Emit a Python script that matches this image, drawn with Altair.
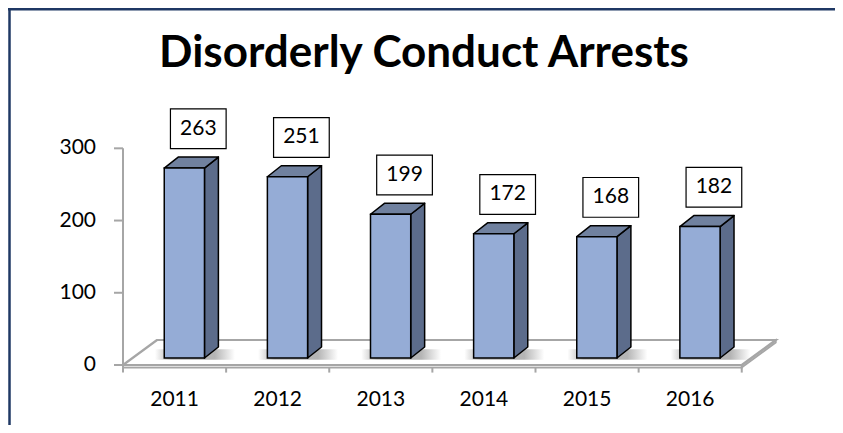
import altair as alt
import pandas as pd

# ---- data ----
years = ["2011", "2012", "2013", "2014", "2015", "2016"]
arrests = [263, 251, 199, 172, 168, 182]
y_ticks = [0, 100, 200, 300]
title_text = ["Disorderly Conduct Arrests"]

# ---- pseudo-3D geometry (expressed in scale units) ----
W, H = 660, 260
X_MAX, Y_MAX = 6.4, 360
FRONT_L, FRONT_R = 0.40, 0.79      # front face within a category slot
DEPTH_X, DEPTH_Y = 0.135, 15.2     # bar depth offset
LIFT = 9.7                         # bar base above the floor's front edge
FLOOR_DX, FLOOR_DY = 0.33, 34.6    # floor depth offset
SLAB = 3.5                         # floor thickness
LBL_DX, LBL_HW = 0.73, 0.27        # label box centre / half width
LBL_GAP, LBL_H = 11.7, 55          # gap above bar, box height

FRONT_C = "#95acd6"
SIDE_C = "#5c6c8b"
TOP_C = "#70819f"
GRID_C = "#a6a6a6"
FONT = "Lato"

n = len(years)
xs = alt.Scale(domain=[0, X_MAX], nice=False, zero=False)
ys = alt.Scale(domain=[0, Y_MAX], nice=False, zero=False)
X = lambda f: alt.X(f, type="quantitative", scale=xs, axis=None)
Y = lambda f: alt.Y(f, type="quantitative", scale=ys, axis=None)

front = pd.DataFrame({"year": years, "v": arrests, "i": range(n)})
front["x"] = front.i + FRONT_L
front["x2"] = front.i + FRONT_R
front["y"] = LIFT
front["y2"] = front.v + LIFT
front["cx"] = front.i + 0.5
front["sx1"] = front.i + FRONT_L - 0.09
front["sx2"] = front.i + FRONT_R + DEPTH_X + 0.16
front["sy1"] = LIFT - 2.5
front["sy2"] = LIFT + DEPTH_Y - 3
front["lx"] = front.i + LBL_DX
front["lx1"] = front.lx - LBL_HW
front["lx2"] = front.lx + LBL_HW
front["ly1"] = front.v + LIFT + DEPTH_Y + LBL_GAP
front["ly2"] = front.ly1 + LBL_H
front["ly"] = front.ly1 + LBL_H / 2

side_rows, top_rows = [], []
for i, (yr, v) in enumerate(zip(years, arrests)):
    side_rows.append({"year": yr, "x": i + FRONT_R, "y": v + LIFT, "y2": LIFT})
    side_rows.append({"year": yr, "x": i + FRONT_R + DEPTH_X,
                      "y": v + LIFT + DEPTH_Y, "y2": LIFT + DEPTH_Y})
    top_rows.append({"year": yr, "y": v + LIFT, "x": i + FRONT_L, "x2": i + FRONT_R})
    top_rows.append({"year": yr, "y": v + LIFT + DEPTH_Y,
                     "x": i + FRONT_L + DEPTH_X, "x2": i + FRONT_R + DEPTH_X})
side = pd.DataFrame(side_rows)
top = pd.DataFrame(top_rows)

floor = pd.DataFrame([
    {"y": 0, "x": 0, "x2": n},
    {"y": FLOOR_DY, "x": FLOOR_DX, "x2": n + FLOOR_DX},
])
slab = pd.DataFrame({"x": [0], "x2": [n], "y": [-SLAB], "y2": [0]})
slab_side = pd.DataFrame([
    {"x": n, "y": 0, "y2": -SLAB},
    {"x": n + FLOOR_DX, "y": FLOOR_DY, "y2": FLOOR_DY - SLAB},
])
xticks = pd.DataFrame({"x": list(range(n + 1)), "y": -SLAB, "y2": -10.5})
ytk = pd.DataFrame({"t": y_ticks})
yline = pd.DataFrame({"x": [0], "y": [-SLAB], "y2": [max(y_ticks)]})
ttl = pd.DataFrame({"t": title_text})

floor_l = alt.Chart(floor).mark_area(
    orient="horizontal", fill="white", stroke=GRID_C, strokeWidth=2.2
).encode(y=Y("y"), x=X("x"), x2="x2:Q")
slab_l = alt.Chart(slab).mark_rect(
    fill="#f2f2f2", stroke=GRID_C, strokeWidth=1.8
).encode(x=X("x"), x2="x2:Q", y=Y("y"), y2="y2:Q")
slab_side_l = alt.Chart(slab_side).mark_area(
    orient="vertical", fill="#e6e6e6", stroke=GRID_C, strokeWidth=1.8
).encode(x=X("x"), y=Y("y"), y2="y2:Q")

shadow_fill = alt.LinearGradient(
    gradient="linear", x1=0, x2=1, y1=0, y2=0,
    stops=[
        alt.GradientStop(color="rgba(120,120,120,0)", offset=0),
        alt.GradientStop(color="rgba(120,120,120,0.55)", offset=0.2),
        alt.GradientStop(color="rgba(120,120,120,0.55)", offset=0.75),
        alt.GradientStop(color="rgba(120,120,120,0)", offset=1),
    ],
)
shadow_l = alt.Chart(front).mark_rect(fill=shadow_fill).encode(
    x=X("sx1"), x2="sx2:Q", y=Y("sy1"), y2="sy2:Q")

side_l = alt.Chart(side).mark_area(
    orient="vertical", fill=SIDE_C, stroke="black", strokeWidth=1.5, strokeJoin="round"
).encode(x=X("x"), y=Y("y"), y2="y2:Q", detail="year:N")

top_l = alt.Chart(top).mark_area(
    orient="horizontal", fill=TOP_C, stroke="black", strokeWidth=1.5, strokeJoin="round"
).encode(y=Y("y"), x=X("x"), x2="x2:Q", detail="year:N")

front_l = alt.Chart(front).mark_rect(
    fill=FRONT_C, stroke="black", strokeWidth=1.5
).encode(x=X("x"), x2="x2:Q", y=Y("y"), y2="y2:Q")

box_l = alt.Chart(front).mark_rect(
    fill="white", stroke="black", strokeWidth=1.2
).encode(x=X("lx1"), x2="lx2:Q", y=Y("ly1"), y2="ly2:Q")

text_l = alt.Chart(front).mark_text(
    font=FONT, fontSize=21, color="black", align="center", baseline="middle"
).encode(x=X("lx"), y=Y("ly"), text="v:Q")

# x axis: tick rules + year labels
xtick_l = alt.Chart(xticks).mark_rule(color=GRID_C, strokeWidth=2).encode(
    x=X("x"), y=Y("y"), y2="y2:Q")
xlab_l = alt.Chart(front).mark_text(
    font=FONT, fontSize=21, color="black", align="center", baseline="alphabetic"
).encode(x=X("cx"), y=alt.value(H + 41), text="year:N")

# y axis: line, ticks, labels
yline_l = alt.Chart(yline).mark_rule(color=GRID_C, strokeWidth=2).encode(
    x=X("x"), y=Y("y"), y2="y2:Q")
ytick_l = alt.Chart(ytk).mark_rule(color=GRID_C, strokeWidth=2).encode(
    x=alt.value(-9), x2=alt.value(0), y=Y("t"))
ylab_l = alt.Chart(ytk).mark_text(
    font=FONT, fontSize=21, color="black", align="right", baseline="middle"
).encode(x=alt.value(-27), y=Y("t"), text="t:Q")

title_l = alt.Chart(ttl).mark_text(
    font=FONT, fontSize=44, fontWeight="bold", color="black",
    align="center", baseline="alphabetic"
).encode(x=alt.value(301), y=alt.value(-38), text="t:N")

frame_top = alt.Chart(yline).mark_rule(color="#1f3864", strokeWidth=3).encode(
    x=alt.value(-115), x2=alt.value(W + 52), y=alt.value(-96))
frame_left = alt.Chart(yline).mark_rule(color="#1f3864", strokeWidth=2.5).encode(
    x=alt.value(-113.5), y=alt.value(-97), y2=alt.value(H + 60))

chart = alt.layer(
    slab_l, slab_side_l, floor_l, shadow_l, side_l, top_l, front_l, box_l, text_l,
    xtick_l, xlab_l, yline_l, ytick_l, ylab_l, title_l,
    frame_top, frame_left,
).properties(
    width=W, height=H,
    padding={"left": 115, "top": 97, "right": 52, "bottom": 60},
    autosize=alt.AutoSizeParams(type="none"),
    background="white",
).configure_view(stroke=None)

chart.save("out.html", embed_options={"renderer": "svg", "actions": False})
